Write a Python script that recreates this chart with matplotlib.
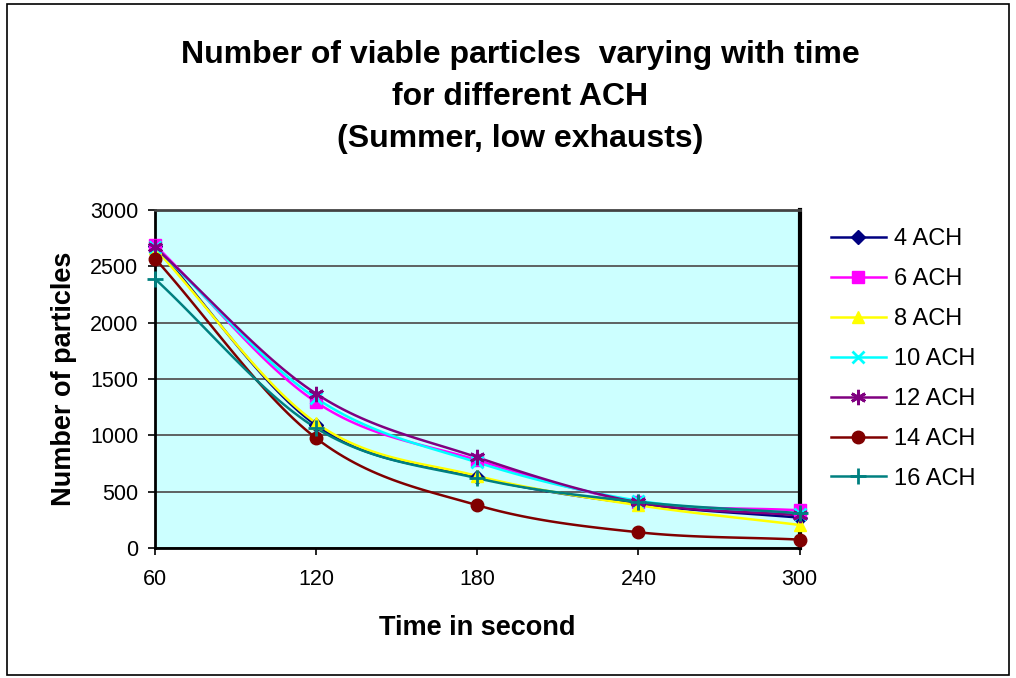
import numpy as np
import matplotlib
matplotlib.use("Agg")
import matplotlib.pyplot as plt
from matplotlib.patches import Rectangle
from matplotlib.lines import Line2D

plt.rcParams['font.family'] = ['Liberation Sans', 'DejaVu Sans']

times = [60, 120, 180, 240, 300]
series_names = ["4 ACH", "6 ACH", "8 ACH", "10 ACH", "12 ACH", "14 ACH", "16 ACH"]
ach4 = [2680, 1090, 630, 390, 270]
ach6 = [2690, 1295, 780, 410, 335]
ach8 = [2660, 1110, 640, 380, 205]
ach10 = [2670, 1330, 760, 420, 300]
ach12 = [2670, 1370, 805, 405, 290]
ach14 = [2570, 975, 380, 140, 75]
ach16 = [2390, 1065, 620, 410, 310]
all_series = [ach4, ach6, ach8, ach10, ach12, ach14, ach16]

colors = ["#000080", "#FF00FF", "#FFFF00", "#00FFFF", "#800080", "#800000", "#008080"]
markers = ["D", "s", "^", "x", (6, 2, 0), "o", "+"]
msizes = [7, 8, 9, 9, 11, 9, 12]


def smooth(x, y, n=30):
    # Catmull-Rom rendering of the line between data points (Excel "smoothed line")
    x = np.asarray(x, float); y = np.asarray(y, float)
    px = np.concatenate([[2 * x[0] - x[1]], x, [2 * x[-1] - x[-2]]])
    py = np.concatenate([[2 * y[0] - y[1]], y, [2 * y[-1] - y[-2]]])
    xs, ys = [], []
    for i in range(1, len(px) - 2):
        t = np.linspace(0, 1, n)
        for arr, out in ((px, xs), (py, ys)):
            p0, p1, p2, p3 = arr[i - 1], arr[i], arr[i + 1], arr[i + 2]
            out.extend(0.5 * ((2 * p1) + (-p0 + p2) * t + (2 * p0 - 5 * p1 + 4 * p2 - p3) * t ** 2
                              + (-p0 + 3 * p1 - 3 * p2 + p3) * t ** 3))
    return np.array(xs), np.array(ys)


fig = plt.figure(figsize=(10.16, 6.78), dpi=100)
ax = fig.add_axes([0.1526, 0.1917, 0.6344, 0.4983])
ax.set_facecolor("#CCFFFF")

handles = []
for name, vals, c, m, ms in zip(series_names, all_series, colors, markers, msizes):
    sx, sy = smooth(times, vals)
    ax.plot(sx, sy, color=c, lw=1.8, zorder=3)
    ax.plot(times, vals, linestyle="none", marker=m, color=c, markersize=ms,
            markeredgewidth=2 if m in ("x", "+", (6, 2, 0)) else 1, zorder=4, clip_on=False)
    handles.append(Line2D([0], [0], color=c, lw=1.8, marker=m, markersize=ms,
                          markeredgewidth=2 if m in ("x", "+", (6, 2, 0)) else 1))

ax.set_xlim(60, 300)
ax.set_ylim(0, 3000)
ax.set_xticks(times)
ax.set_yticks(range(0, 3001, 500))
ax.tick_params(axis='both', labelsize=15.5, direction='out', length=5, width=1.2)
ax.tick_params(axis='x', pad=10)
ax.tick_params(axis='y', pad=7)
ax.grid(axis='y', color="#555555", lw=1.3)
ax.set_axisbelow(True)
for sp in ax.spines.values():
    sp.set_linewidth(2)
    sp.set_color("black")
ax.spines['right'].set_linewidth(3)
ax.spines['top'].set_color("#444444")

ax.set_xlabel("Time in second", fontsize=19.5, fontweight='bold', labelpad=18)
ax.set_ylabel("Number of particles", fontsize=19.5, fontweight='bold', labelpad=9)

fig.text(0.512, 0.857, "Number of viable particles  varying with time\nfor different ACH\n(Summer, low exhausts)",
         ha='center', va='center', fontsize=23, fontweight='bold', linespacing=1.53)

leg = fig.legend(handles, series_names, loc='upper left', bbox_to_anchor=(0.806, 0.681),
                 frameon=False, fontsize=17, handlelength=2.35, labelspacing=0.76,
                 handletextpad=0.34, borderpad=0.0)

fig.add_artist(Rectangle((0.007, 0.004), 0.986, 0.99, transform=fig.transFigure,
                         fill=False, edgecolor='black', lw=1.2))

fig.savefig("out.png", dpi=100)
